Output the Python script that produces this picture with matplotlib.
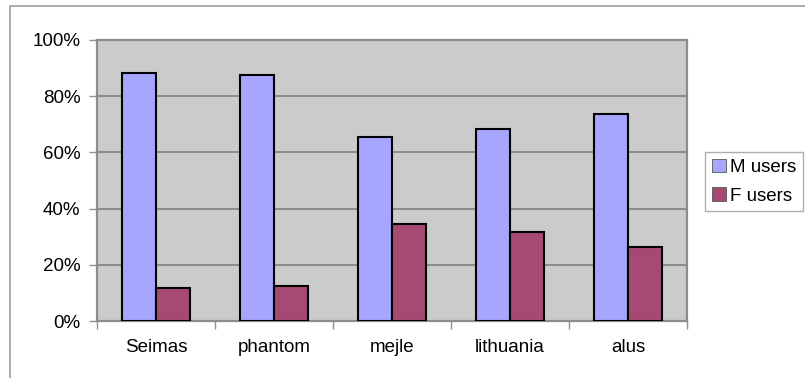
import numpy as np
import matplotlib
matplotlib.use("Agg")
import matplotlib.pyplot as plt
from matplotlib.patches import Rectangle
from matplotlib.ticker import PercentFormatter

categories = ["Seimas", "phantom", "mejle", "lithuania", "alus"]
m_users = [88.2, 87.6, 65.6, 68.2, 73.6]
f_users = [11.8, 12.4, 34.4, 31.8, 26.4]

plt.rcParams["font.family"] = ["Liberation Sans", "DejaVu Sans"]

W, H = 805, 378
fig = plt.figure(figsize=(W / 100, H / 100), dpi=100)

# thin outer frame of the chart object
fig.patches.append(Rectangle((10 / W, -0.1), 1.2, (H - 6) / H + 0.1,
                             transform=fig.transFigure, fill=False,
                             edgecolor="#a0a0a0", linewidth=1.2))

ax = fig.add_axes([97 / W, 1 - 321 / H, (687 - 97) / W, (321 - 40) / H])
ax.set_facecolor("#cbcbcb")

x = np.arange(len(categories))
bw = 0.29
ax.bar(x - bw / 2, m_users, bw, color="#a6a6ff", edgecolor="black",
       linewidth=1.5, label="M users", zorder=3)
ax.bar(x + bw / 2, f_users, bw, color="#a54a73", edgecolor="black",
       linewidth=1.5, label="F users", zorder=3)

ax.set_xlim(-0.5, len(categories) - 0.5)
ax.set_ylim(0, 100)
ax.set_yticks(np.arange(0, 101, 20))
ax.yaxis.set_major_formatter(PercentFormatter(decimals=0))
ax.grid(axis="y", color="#7a7a7a", linewidth=1.1, zorder=1)
ax.set_axisbelow(True)

fs = 13.5
ax.set_xticks(x)
ax.set_xticklabels(categories, fontsize=fs)
ax.tick_params(axis="x", length=0, pad=13)
ax.set_xticks(np.arange(-0.5, len(categories), 1), minor=True)
ax.tick_params(axis="x", which="minor", length=6, color="#909090", width=1)
ax.tick_params(axis="y", labelsize=fs, length=6, color="#909090", width=1, pad=6)

for side in ["left", "bottom", "top", "right"]:
    ax.spines[side].set_color("#8c8c8c")
    ax.spines[side].set_linewidth(1.6)

leg = fig.legend(loc="upper left", bbox_to_anchor=(705 / W, 1 - 152 / H),
                 fontsize=fs, frameon=True, fancybox=False,
                 edgecolor="#9a9a9a", handlelength=0.75, handleheight=0.75,
                 handletextpad=0.25, borderpad=0.35, labelspacing=0.6,
                 borderaxespad=0)
leg.get_frame().set_linewidth(1.0)
for h in leg.legend_handles:
    h.set_linewidth(0.6)
    h.set_edgecolor("#555555")

fig.savefig("out.png", dpi=100)
